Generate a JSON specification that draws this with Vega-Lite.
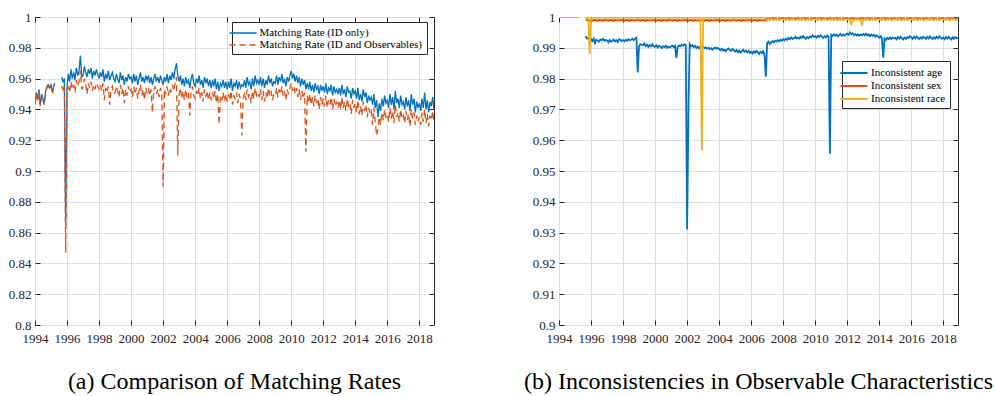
{
"$schema":"https://vega.github.io/schema/vega-lite/v6.json",
"padding":{"left":7,"top":10,"right":3,"bottom":3},
"spacing":125,
"bounds":"flush",
"datasets":{"m":[
{"t":"1994-01","a":0.944,"b":0.943,"c":null,"d":1,"e":1},
{"t":"1994-02","a":0.951,"b":0.950,"c":null,"d":1,"e":1},
{"t":"1994-03","a":0.946,"b":0.945,"c":null,"d":1,"e":1},
{"t":"1994-04","a":0.953,"b":0.952,"c":null,"d":1,"e":1},
{"t":"1994-05","a":0.943,"b":0.942,"c":null,"d":1,"e":1},
{"t":"1994-06","a":0.950,"b":0.949,"c":null,"d":1,"e":1},
{"t":"1994-07","a":0.947,"b":0.946,"c":null,"d":1,"e":1},
{"t":"1994-08","a":0.944,"b":0.943,"c":null,"d":1,"e":1},
{"t":"1994-09","a":0.952,"b":0.951,"c":null,"d":1,"e":1},
{"t":"1994-10","a":0.955,"b":0.954,"c":null,"d":1,"e":1},
{"t":"1994-11","a":0.956,"b":0.955,"c":null,"d":1,"e":1},
{"t":"1994-12","a":0.954,"b":0.953,"c":null,"d":1,"e":1},
{"t":"1995-01","a":0.956,"b":0.955,"c":null,"d":1,"e":1},
{"t":"1995-02","a":0.951,"b":0.950,"c":null,"d":1,"e":1},
{"t":"1995-03","a":0.955,"b":0.954,"c":null,"d":1,"e":1},
{"t":"1995-04","a":0.957,"b":0.956,"c":null,"d":1,"e":1},
{"t":"1995-05","a":null,"b":null,"c":null,"d":null,"e":null},
{"t":"1995-06","a":null,"b":null,"c":null,"d":null,"e":null},
{"t":"1995-07","a":null,"b":null,"c":null,"d":null,"e":null},
{"t":"1995-08","a":null,"b":null,"c":null,"d":null,"e":null},
{"t":"1995-09","a":0.961,"b":0.955,"c":0.9938,"d":0.9991,"e":0.9998},
{"t":"1995-10","a":0.958,"b":0.953,"c":0.9930,"d":0.9989,"e":0.9997},
{"t":"1995-11","a":0.960,"b":0.956,"c":0.9932,"d":0.9990,"e":0.9998},
{"t":"1995-12","a":0.865,"b":0.847,"c":0.9926,"d":0.9987,"e":0.9880},
{"t":"1996-01","a":0.955,"b":0.949,"c":0.9928,"d":0.9990,"e":0.9998},
{"t":"1996-02","a":0.963,"b":0.955,"c":0.9922,"d":0.9988,"e":0.9997},
{"t":"1996-03","a":0.958,"b":0.951,"c":0.9930,"d":0.9991,"e":0.9999},
{"t":"1996-04","a":0.966,"b":0.958,"c":0.9915,"d":0.9989,"e":0.9998},
{"t":"1996-05","a":0.960,"b":0.953,"c":0.9926,"d":0.9990,"e":0.9997},
{"t":"1996-06","a":0.964,"b":0.956,"c":0.9924,"d":0.9987,"e":0.9998},
{"t":"1996-07","a":0.959,"b":0.951,"c":0.9920,"d":0.9991,"e":0.9999},
{"t":"1996-08","a":0.967,"b":0.959,"c":0.9927,"d":0.9989,"e":0.9998},
{"t":"1996-09","a":0.962,"b":0.955,"c":0.9925,"d":0.9990,"e":0.9997},
{"t":"1996-10","a":0.965,"b":0.958,"c":0.9929,"d":0.9988,"e":0.9998},
{"t":"1996-11","a":0.975,"b":0.965,"c":0.9923,"d":0.9991,"e":0.9998},
{"t":"1996-12","a":0.961,"b":0.953,"c":0.9926,"d":0.9989,"e":0.9997},
{"t":"1997-01","a":0.962,"b":0.955,"c":0.9924,"d":0.9990,"e":0.9998},
{"t":"1997-02","a":0.968,"b":0.960,"c":0.9918,"d":0.9988,"e":0.9997},
{"t":"1997-03","a":0.964,"b":0.956,"c":0.9925,"d":0.9991,"e":0.9999},
{"t":"1997-04","a":0.961,"b":0.950,"c":0.9920,"d":0.9989,"e":0.9998},
{"t":"1997-05","a":0.966,"b":0.957,"c":0.9923,"d":0.9990,"e":0.9997},
{"t":"1997-06","a":0.963,"b":0.954,"c":0.9927,"d":0.9987,"e":0.9998},
{"t":"1997-07","a":0.967,"b":0.958,"c":0.9921,"d":0.9991,"e":0.9999},
{"t":"1997-08","a":0.960,"b":0.952,"c":0.9925,"d":0.9989,"e":0.9998},
{"t":"1997-09","a":0.965,"b":0.956,"c":0.9919,"d":0.9990,"e":0.9997},
{"t":"1997-10","a":0.962,"b":0.953,"c":0.9928,"d":0.9988,"e":0.9998},
{"t":"1997-11","a":0.966,"b":0.957,"c":0.9926,"d":0.9991,"e":0.9998},
{"t":"1997-12","a":0.963,"b":0.955,"c":0.9922,"d":0.9989,"e":0.9997},
{"t":"1998-01","a":0.960,"b":0.953,"c":0.9925,"d":0.9990,"e":0.9998},
{"t":"1998-02","a":0.964,"b":0.956,"c":0.9921,"d":0.9988,"e":0.9997},
{"t":"1998-03","a":0.961,"b":0.952,"c":0.9926,"d":0.9991,"e":0.9999},
{"t":"1998-04","a":0.966,"b":0.957,"c":0.9923,"d":0.9989,"e":0.9998},
{"t":"1998-05","a":0.958,"b":0.946,"c":0.9928,"d":0.9990,"e":0.9997},
{"t":"1998-06","a":0.963,"b":0.954,"c":0.9924,"d":0.9987,"e":0.9998},
{"t":"1998-07","a":0.960,"b":0.951,"c":0.9926,"d":0.9991,"e":0.9999},
{"t":"1998-08","a":0.965,"b":0.955,"c":0.9929,"d":0.9989,"e":0.9998},
{"t":"1998-09","a":0.959,"b":0.943,"c":0.9925,"d":0.9990,"e":0.9997},
{"t":"1998-10","a":0.962,"b":0.953,"c":0.9930,"d":0.9988,"e":0.9998},
{"t":"1998-11","a":0.964,"b":0.955,"c":0.9933,"d":0.9991,"e":0.9998},
{"t":"1998-12","a":0.960,"b":0.950,"c":0.9820,"d":0.9989,"e":0.9996},
{"t":"1999-01","a":0.958,"b":0.951,"c":0.9905,"d":0.9990,"e":0.9998},
{"t":"1999-02","a":0.963,"b":0.955,"c":0.9912,"d":0.9988,"e":0.9997},
{"t":"1999-03","a":0.960,"b":0.952,"c":0.9910,"d":0.9991,"e":0.9999},
{"t":"1999-04","a":0.957,"b":0.948,"c":0.9908,"d":0.9989,"e":0.9998},
{"t":"1999-05","a":0.964,"b":0.956,"c":0.9914,"d":0.9990,"e":0.9997},
{"t":"1999-06","a":0.959,"b":0.950,"c":0.9906,"d":0.9987,"e":0.9998},
{"t":"1999-07","a":0.962,"b":0.954,"c":0.9910,"d":0.9991,"e":0.9999},
{"t":"1999-08","a":0.956,"b":0.944,"c":0.9903,"d":0.9989,"e":0.9998},
{"t":"1999-09","a":0.961,"b":0.953,"c":0.9909,"d":0.9990,"e":0.9997},
{"t":"1999-10","a":0.958,"b":0.949,"c":0.9905,"d":0.9988,"e":0.9998},
{"t":"1999-11","a":0.963,"b":0.955,"c":0.9911,"d":0.9991,"e":0.9998},
{"t":"1999-12","a":0.960,"b":0.951,"c":0.9904,"d":0.9989,"e":0.9997},
{"t":"2000-01","a":0.961,"b":0.953,"c":0.9903,"d":0.9990,"e":0.9998},
{"t":"2000-02","a":0.957,"b":0.948,"c":0.9908,"d":0.9988,"e":0.9997},
{"t":"2000-03","a":0.963,"b":0.955,"c":0.9901,"d":0.9991,"e":0.9999},
{"t":"2000-04","a":0.958,"b":0.950,"c":0.9906,"d":0.9989,"e":0.9998},
{"t":"2000-05","a":0.962,"b":0.954,"c":0.9904,"d":0.9990,"e":0.9997},
{"t":"2000-06","a":0.956,"b":0.947,"c":0.9899,"d":0.9987,"e":0.9998},
{"t":"2000-07","a":0.960,"b":0.952,"c":0.9905,"d":0.9991,"e":0.9999},
{"t":"2000-08","a":0.964,"b":0.956,"c":0.9902,"d":0.9989,"e":0.9998},
{"t":"2000-09","a":0.958,"b":0.949,"c":0.9907,"d":0.9990,"e":0.9997},
{"t":"2000-10","a":0.961,"b":0.953,"c":0.9900,"d":0.9988,"e":0.9998},
{"t":"2000-11","a":0.957,"b":0.946,"c":0.9904,"d":0.9991,"e":0.9998},
{"t":"2000-12","a":0.962,"b":0.954,"c":0.9901,"d":0.9989,"e":0.9997},
{"t":"2001-01","a":0.959,"b":0.951,"c":0.9904,"d":0.9990,"e":0.9998},
{"t":"2001-02","a":0.962,"b":0.954,"c":0.9907,"d":0.9988,"e":0.9997},
{"t":"2001-03","a":0.957,"b":0.949,"c":0.9902,"d":0.9991,"e":0.9999},
{"t":"2001-04","a":0.961,"b":0.953,"c":0.9906,"d":0.9989,"e":0.9998},
{"t":"2001-05","a":0.956,"b":0.938,"c":0.9867,"d":0.9990,"e":0.9997},
{"t":"2001-06","a":0.960,"b":0.952,"c":0.9903,"d":0.9987,"e":0.9998},
{"t":"2001-07","a":0.963,"b":0.955,"c":0.9908,"d":0.9991,"e":0.9999},
{"t":"2001-08","a":0.958,"b":0.950,"c":0.9905,"d":0.9989,"e":0.9998},
{"t":"2001-09","a":0.961,"b":0.953,"c":0.9910,"d":0.9990,"e":0.9997},
{"t":"2001-10","a":0.957,"b":0.948,"c":0.9907,"d":0.9988,"e":0.9998},
{"t":"2001-11","a":0.962,"b":0.954,"c":0.9912,"d":0.9991,"e":0.9998},
{"t":"2001-12","a":0.959,"b":0.951,"c":0.9909,"d":0.9989,"e":0.9997},
{"t":"2002-01","a":0.956,"b":0.890,"c":0.9310,"d":0.9990,"e":0.9998},
{"t":"2002-02","a":0.961,"b":0.953,"c":0.9708,"d":0.9988,"e":0.9997},
{"t":"2002-03","a":0.958,"b":0.950,"c":0.9912,"d":0.9991,"e":0.9999},
{"t":"2002-04","a":0.963,"b":0.955,"c":0.9905,"d":0.9989,"e":0.9998},
{"t":"2002-05","a":0.957,"b":0.949,"c":0.9908,"d":0.9990,"e":0.9997},
{"t":"2002-06","a":0.962,"b":0.954,"c":0.9902,"d":0.9987,"e":0.9998},
{"t":"2002-07","a":0.959,"b":0.951,"c":0.9906,"d":0.9991,"e":0.9999},
{"t":"2002-08","a":0.964,"b":0.956,"c":0.9900,"d":0.9989,"e":0.9998},
{"t":"2002-09","a":0.960,"b":0.952,"c":0.9904,"d":0.9990,"e":0.9997},
{"t":"2002-10","a":0.966,"b":0.957,"c":0.9898,"d":0.9988,"e":0.9998},
{"t":"2002-11","a":0.970,"b":0.961,"c":0.9902,"d":0.9991,"e":0.9998},
{"t":"2002-12","a":0.962,"b":0.910,"c":0.9906,"d":0.9989,"e":0.9567},
{"t":"2003-01","a":0.958,"b":0.950,"c":0.9903,"d":0.9990,"e":0.9998},
{"t":"2003-02","a":0.962,"b":0.954,"c":0.9899,"d":0.9988,"e":0.9997},
{"t":"2003-03","a":0.956,"b":0.947,"c":0.9902,"d":0.9991,"e":0.9999},
{"t":"2003-04","a":0.960,"b":0.952,"c":0.9897,"d":0.9989,"e":0.9998},
{"t":"2003-05","a":0.955,"b":0.946,"c":0.9900,"d":0.9990,"e":0.9997},
{"t":"2003-06","a":0.961,"b":0.953,"c":0.9896,"d":0.9987,"e":0.9998},
{"t":"2003-07","a":0.957,"b":0.948,"c":0.9899,"d":0.9991,"e":0.9999},
{"t":"2003-08","a":0.959,"b":0.951,"c":0.9894,"d":0.9989,"e":0.9998},
{"t":"2003-09","a":0.954,"b":0.936,"c":0.9898,"d":0.9990,"e":0.9997},
{"t":"2003-10","a":0.960,"b":0.952,"c":0.9901,"d":0.9988,"e":0.9998},
{"t":"2003-11","a":0.963,"b":0.955,"c":0.9897,"d":0.9991,"e":0.9998},
{"t":"2003-12","a":0.957,"b":0.949,"c":0.9900,"d":0.9989,"e":0.9997},
{"t":"2004-01","a":0.955,"b":0.947,"c":0.9896,"d":0.9990,"e":0.9998},
{"t":"2004-02","a":0.960,"b":0.952,"c":0.9892,"d":0.9988,"e":0.9997},
{"t":"2004-03","a":0.957,"b":0.949,"c":0.9897,"d":0.9991,"e":0.9999},
{"t":"2004-04","a":0.962,"b":0.954,"c":0.9891,"d":0.9989,"e":0.9998},
{"t":"2004-05","a":0.956,"b":0.947,"c":0.9894,"d":0.9990,"e":0.9997},
{"t":"2004-06","a":0.959,"b":0.951,"c":0.9889,"d":0.9987,"e":0.9998},
{"t":"2004-07","a":0.954,"b":0.945,"c":0.9895,"d":0.9991,"e":0.9999},
{"t":"2004-08","a":0.961,"b":0.953,"c":0.9898,"d":0.9989,"e":0.9998},
{"t":"2004-09","a":0.957,"b":0.948,"c":0.9893,"d":0.9990,"e":0.9997},
{"t":"2004-10","a":0.960,"b":0.952,"c":0.9890,"d":0.9988,"e":0.9998},
{"t":"2004-11","a":0.955,"b":0.946,"c":0.9896,"d":0.9991,"e":0.9998},
{"t":"2004-12","a":0.959,"b":0.951,"c":0.9892,"d":0.9989,"e":0.9997},
{"t":"2005-01","a":0.954,"b":0.946,"c":0.9888,"d":0.9990,"e":0.9998},
{"t":"2005-02","a":0.959,"b":0.951,"c":0.9893,"d":0.9988,"e":0.9997},
{"t":"2005-03","a":0.955,"b":0.947,"c":0.9886,"d":0.9991,"e":0.9999},
{"t":"2005-04","a":0.960,"b":0.952,"c":0.9891,"d":0.9989,"e":0.9998},
{"t":"2005-05","a":0.953,"b":0.944,"c":0.9884,"d":0.9990,"e":0.9997},
{"t":"2005-06","a":0.958,"b":0.950,"c":0.9889,"d":0.9987,"e":0.9998},
{"t":"2005-07","a":0.952,"b":0.930,"c":0.9894,"d":0.9991,"e":0.9999},
{"t":"2005-08","a":0.957,"b":0.949,"c":0.9887,"d":0.9989,"e":0.9998},
{"t":"2005-09","a":0.955,"b":0.946,"c":0.9891,"d":0.9990,"e":0.9997},
{"t":"2005-10","a":0.959,"b":0.951,"c":0.9885,"d":0.9988,"e":0.9998},
{"t":"2005-11","a":0.954,"b":0.945,"c":0.9890,"d":0.9991,"e":0.9998},
{"t":"2005-12","a":0.958,"b":0.950,"c":0.9883,"d":0.9989,"e":0.9997},
{"t":"2006-01","a":0.953,"b":0.945,"c":0.9887,"d":0.9990,"e":0.9998},
{"t":"2006-02","a":0.958,"b":0.950,"c":0.9882,"d":0.9988,"e":0.9997},
{"t":"2006-03","a":0.954,"b":0.946,"c":0.9889,"d":0.9991,"e":0.9999},
{"t":"2006-04","a":0.960,"b":0.952,"c":0.9884,"d":0.9989,"e":0.9998},
{"t":"2006-05","a":0.952,"b":0.943,"c":0.9890,"d":0.9990,"e":0.9997},
{"t":"2006-06","a":0.957,"b":0.949,"c":0.9885,"d":0.9987,"e":0.9998},
{"t":"2006-07","a":0.955,"b":0.947,"c":0.9880,"d":0.9991,"e":0.9999},
{"t":"2006-08","a":0.959,"b":0.951,"c":0.9887,"d":0.9989,"e":0.9998},
{"t":"2006-09","a":0.953,"b":0.944,"c":0.9883,"d":0.9990,"e":0.9997},
{"t":"2006-10","a":0.958,"b":0.950,"c":0.9889,"d":0.9988,"e":0.9998},
{"t":"2006-11","a":0.954,"b":0.946,"c":0.9878,"d":0.9991,"e":0.9998},
{"t":"2006-12","a":0.956,"b":0.923,"c":0.9806,"d":0.9989,"e":0.9997},
{"t":"2007-01","a":0.955,"b":0.947,"c":0.9915,"d":0.9995,"e":0.9988},
{"t":"2007-02","a":0.959,"b":0.951,"c":0.9920,"d":0.9994,"e":0.9993},
{"t":"2007-03","a":0.954,"b":0.946,"c":0.9912,"d":0.9996,"e":0.9990},
{"t":"2007-04","a":0.961,"b":0.953,"c":0.9918,"d":0.9995,"e":0.9994},
{"t":"2007-05","a":0.956,"b":0.948,"c":0.9922,"d":0.9997,"e":0.9992},
{"t":"2007-06","a":0.958,"b":0.950,"c":0.9917,"d":0.9994,"e":0.9989},
{"t":"2007-07","a":0.953,"b":0.944,"c":0.9923,"d":0.9996,"e":0.9993},
{"t":"2007-08","a":0.960,"b":0.952,"c":0.9920,"d":0.9995,"e":0.9991},
{"t":"2007-09","a":0.955,"b":0.947,"c":0.9925,"d":0.9994,"e":0.9994},
{"t":"2007-10","a":0.962,"b":0.954,"c":0.9921,"d":0.9996,"e":0.9990},
{"t":"2007-11","a":0.957,"b":0.949,"c":0.9926,"d":0.9995,"e":0.9992},
{"t":"2007-12","a":0.959,"b":0.951,"c":0.9923,"d":0.9997,"e":0.9993},
{"t":"2008-01","a":0.956,"b":0.948,"c":0.9928,"d":0.9995,"e":0.9991},
{"t":"2008-02","a":0.961,"b":0.953,"c":0.9924,"d":0.9994,"e":0.9993},
{"t":"2008-03","a":0.955,"b":0.946,"c":0.9930,"d":0.9996,"e":0.9990},
{"t":"2008-04","a":0.960,"b":0.952,"c":0.9926,"d":0.9995,"e":0.9994},
{"t":"2008-05","a":0.954,"b":0.945,"c":0.9932,"d":0.9997,"e":0.9992},
{"t":"2008-06","a":0.959,"b":0.951,"c":0.9928,"d":0.9994,"e":0.9989},
{"t":"2008-07","a":0.956,"b":0.947,"c":0.9934,"d":0.9996,"e":0.9993},
{"t":"2008-08","a":0.962,"b":0.954,"c":0.9929,"d":0.9995,"e":0.9991},
{"t":"2008-09","a":0.957,"b":0.949,"c":0.9931,"d":0.9994,"e":0.9994},
{"t":"2008-10","a":0.960,"b":0.952,"c":0.9936,"d":0.9996,"e":0.9990},
{"t":"2008-11","a":0.955,"b":0.946,"c":0.9930,"d":0.9995,"e":0.9992},
{"t":"2008-12","a":0.958,"b":0.950,"c":0.9933,"d":0.9997,"e":0.9993},
{"t":"2009-01","a":0.957,"b":0.949,"c":0.9930,"d":0.9995,"e":0.9991},
{"t":"2009-02","a":0.962,"b":0.954,"c":0.9936,"d":0.9994,"e":0.9993},
{"t":"2009-03","a":0.956,"b":0.948,"c":0.9932,"d":0.9996,"e":0.9990},
{"t":"2009-04","a":0.961,"b":0.953,"c":0.9938,"d":0.9995,"e":0.9994},
{"t":"2009-05","a":0.958,"b":0.950,"c":0.9933,"d":0.9997,"e":0.9992},
{"t":"2009-06","a":0.963,"b":0.955,"c":0.9929,"d":0.9994,"e":0.9989},
{"t":"2009-07","a":0.957,"b":0.949,"c":0.9935,"d":0.9996,"e":0.9993},
{"t":"2009-08","a":0.960,"b":0.952,"c":0.9931,"d":0.9995,"e":0.9991},
{"t":"2009-09","a":0.955,"b":0.946,"c":0.9937,"d":0.9994,"e":0.9994},
{"t":"2009-10","a":0.961,"b":0.953,"c":0.9934,"d":0.9996,"e":0.9990},
{"t":"2009-11","a":0.958,"b":0.950,"c":0.9940,"d":0.9995,"e":0.9992},
{"t":"2009-12","a":0.962,"b":0.954,"c":0.9935,"d":0.9997,"e":0.9993},
{"t":"2010-01","a":0.965,"b":0.957,"c":0.9938,"d":0.9995,"e":0.9991},
{"t":"2010-02","a":0.960,"b":0.952,"c":0.9933,"d":0.9994,"e":0.9993},
{"t":"2010-03","a":0.963,"b":0.955,"c":0.9939,"d":0.9996,"e":0.9990},
{"t":"2010-04","a":0.958,"b":0.950,"c":0.9935,"d":0.9995,"e":0.9994},
{"t":"2010-05","a":0.962,"b":0.954,"c":0.9941,"d":0.9997,"e":0.9992},
{"t":"2010-06","a":0.957,"b":0.948,"c":0.9936,"d":0.9994,"e":0.9989},
{"t":"2010-07","a":0.961,"b":0.953,"c":0.9932,"d":0.9996,"e":0.9993},
{"t":"2010-08","a":0.955,"b":0.946,"c":0.9938,"d":0.9995,"e":0.9991},
{"t":"2010-09","a":0.960,"b":0.952,"c":0.9934,"d":0.9994,"e":0.9994},
{"t":"2010-10","a":0.956,"b":0.947,"c":0.9940,"d":0.9996,"e":0.9990},
{"t":"2010-11","a":0.959,"b":0.951,"c":0.9936,"d":0.9995,"e":0.9992},
{"t":"2010-12","a":0.953,"b":0.9125,"c":0.9556,"d":0.9997,"e":0.9993},
{"t":"2011-01","a":0.957,"b":0.949,"c":0.9942,"d":0.9995,"e":0.9991},
{"t":"2011-02","a":0.953,"b":0.944,"c":0.9938,"d":0.9994,"e":0.9993},
{"t":"2011-03","a":0.958,"b":0.950,"c":0.9944,"d":0.9996,"e":0.9990},
{"t":"2011-04","a":0.952,"b":0.943,"c":0.9940,"d":0.9995,"e":0.9994},
{"t":"2011-05","a":0.956,"b":0.948,"c":0.9943,"d":0.9997,"e":0.9992},
{"t":"2011-06","a":0.951,"b":0.942,"c":0.9937,"d":0.9994,"e":0.9989},
{"t":"2011-07","a":0.957,"b":0.949,"c":0.9941,"d":0.9996,"e":0.9993},
{"t":"2011-08","a":0.953,"b":0.944,"c":0.9945,"d":0.9995,"e":0.9991},
{"t":"2011-09","a":0.955,"b":0.947,"c":0.9939,"d":0.9994,"e":0.9994},
{"t":"2011-10","a":0.950,"b":0.940,"c":0.9943,"d":0.9996,"e":0.9990},
{"t":"2011-11","a":0.956,"b":0.948,"c":0.9940,"d":0.9995,"e":0.9992},
{"t":"2011-12","a":0.952,"b":0.943,"c":0.9944,"d":0.9997,"e":0.9993},
{"t":"2012-01","a":0.955,"b":0.947,"c":0.9946,"d":0.9995,"e":0.9991},
{"t":"2012-02","a":0.951,"b":0.942,"c":0.9942,"d":0.9994,"e":0.9993},
{"t":"2012-03","a":0.957,"b":0.949,"c":0.9950,"d":0.9996,"e":0.9990},
{"t":"2012-04","a":0.950,"b":0.941,"c":0.9944,"d":0.9995,"e":0.9974},
{"t":"2012-05","a":0.954,"b":0.946,"c":0.9947,"d":0.9997,"e":0.9992},
{"t":"2012-06","a":0.952,"b":0.943,"c":0.9941,"d":0.9994,"e":0.9989},
{"t":"2012-07","a":0.956,"b":0.948,"c":0.9945,"d":0.9996,"e":0.9993},
{"t":"2012-08","a":0.949,"b":0.940,"c":0.9940,"d":0.9995,"e":0.9991},
{"t":"2012-09","a":0.955,"b":0.947,"c":0.9944,"d":0.9994,"e":0.9994},
{"t":"2012-10","a":0.951,"b":0.942,"c":0.9939,"d":0.9996,"e":0.9990},
{"t":"2012-11","a":0.953,"b":0.945,"c":0.9943,"d":0.9995,"e":0.9992},
{"t":"2012-12","a":0.950,"b":0.941,"c":0.9941,"d":0.9997,"e":0.9972},
{"t":"2013-01","a":0.954,"b":0.946,"c":0.9945,"d":0.9995,"e":0.9991},
{"t":"2013-02","a":0.949,"b":0.940,"c":0.9941,"d":0.9994,"e":0.9993},
{"t":"2013-03","a":0.956,"b":0.948,"c":0.9946,"d":0.9996,"e":0.9990},
{"t":"2013-04","a":0.950,"b":0.941,"c":0.9940,"d":0.9995,"e":0.9994},
{"t":"2013-05","a":0.953,"b":0.945,"c":0.9944,"d":0.9997,"e":0.9992},
{"t":"2013-06","a":0.948,"b":0.939,"c":0.9938,"d":0.9994,"e":0.9989},
{"t":"2013-07","a":0.955,"b":0.947,"c":0.9943,"d":0.9996,"e":0.9993},
{"t":"2013-08","a":0.951,"b":0.942,"c":0.9939,"d":0.9995,"e":0.9991},
{"t":"2013-09","a":0.952,"b":0.944,"c":0.9942,"d":0.9994,"e":0.9994},
{"t":"2013-10","a":0.947,"b":0.937,"c":0.9936,"d":0.9996,"e":0.9990},
{"t":"2013-11","a":0.954,"b":0.946,"c":0.9940,"d":0.9995,"e":0.9992},
{"t":"2013-12","a":0.950,"b":0.941,"c":0.9937,"d":0.9997,"e":0.9993},
{"t":"2014-01","a":0.952,"b":0.944,"c":0.9933,"d":0.9995,"e":0.9991},
{"t":"2014-02","a":0.947,"b":0.938,"c":0.9938,"d":0.9994,"e":0.9993},
{"t":"2014-03","a":0.954,"b":0.946,"c":0.9930,"d":0.9996,"e":0.9990},
{"t":"2014-04","a":0.946,"b":0.937,"c":0.9868,"d":0.9995,"e":0.9994},
{"t":"2014-05","a":0.950,"b":0.942,"c":0.9930,"d":0.9997,"e":0.9992},
{"t":"2014-06","a":0.945,"b":0.936,"c":0.9925,"d":0.9994,"e":0.9989},
{"t":"2014-07","a":0.953,"b":0.945,"c":0.9932,"d":0.9996,"e":0.9993},
{"t":"2014-08","a":0.948,"b":0.939,"c":0.9928,"d":0.9995,"e":0.9991},
{"t":"2014-09","a":0.951,"b":0.943,"c":0.9934,"d":0.9994,"e":0.9994},
{"t":"2014-10","a":0.944,"b":0.935,"c":0.9929,"d":0.9996,"e":0.9990},
{"t":"2014-11","a":0.949,"b":0.941,"c":0.9933,"d":0.9995,"e":0.9992},
{"t":"2014-12","a":0.946,"b":0.937,"c":0.9930,"d":0.9997,"e":0.9993},
{"t":"2015-01","a":0.948,"b":0.939,"c":0.9932,"d":0.9995,"e":0.9991},
{"t":"2015-02","a":0.943,"b":0.930,"c":0.9927,"d":0.9994,"e":0.9993},
{"t":"2015-03","a":0.950,"b":0.941,"c":0.9935,"d":0.9996,"e":0.9990},
{"t":"2015-04","a":0.941,"b":0.932,"c":0.9930,"d":0.9995,"e":0.9994},
{"t":"2015-05","a":0.946,"b":0.923,"c":0.9936,"d":0.9997,"e":0.9992},
{"t":"2015-06","a":0.935,"b":0.927,"c":0.9931,"d":0.9994,"e":0.9989},
{"t":"2015-07","a":0.944,"b":0.935,"c":0.9927,"d":0.9996,"e":0.9993},
{"t":"2015-08","a":0.939,"b":0.930,"c":0.9933,"d":0.9995,"e":0.9991},
{"t":"2015-09","a":0.947,"b":0.938,"c":0.9929,"d":0.9994,"e":0.9994},
{"t":"2015-10","a":0.942,"b":0.933,"c":0.9935,"d":0.9996,"e":0.9990},
{"t":"2015-11","a":0.949,"b":0.940,"c":0.9932,"d":0.9995,"e":0.9992},
{"t":"2015-12","a":0.944,"b":0.935,"c":0.9938,"d":0.9997,"e":0.9993},
{"t":"2016-01","a":0.946,"b":0.937,"c":0.9934,"d":0.9995,"e":0.9991},
{"t":"2016-02","a":0.941,"b":0.932,"c":0.9929,"d":0.9994,"e":0.9993},
{"t":"2016-03","a":0.950,"b":0.941,"c":0.9936,"d":0.9996,"e":0.9990},
{"t":"2016-04","a":0.943,"b":0.934,"c":0.9931,"d":0.9995,"e":0.9994},
{"t":"2016-05","a":0.948,"b":0.939,"c":0.9937,"d":0.9997,"e":0.9992},
{"t":"2016-06","a":0.940,"b":0.931,"c":0.9932,"d":0.9994,"e":0.9989},
{"t":"2016-07","a":0.952,"b":0.943,"c":0.9928,"d":0.9996,"e":0.9993},
{"t":"2016-08","a":0.944,"b":0.935,"c":0.9934,"d":0.9995,"e":0.9991},
{"t":"2016-09","a":0.947,"b":0.938,"c":0.9930,"d":0.9994,"e":0.9994},
{"t":"2016-10","a":0.941,"b":0.932,"c":0.9936,"d":0.9996,"e":0.9990},
{"t":"2016-11","a":0.949,"b":0.940,"c":0.9933,"d":0.9995,"e":0.9992},
{"t":"2016-12","a":0.943,"b":0.934,"c":0.9929,"d":0.9997,"e":0.9993},
{"t":"2017-01","a":0.945,"b":0.936,"c":0.9935,"d":0.9995,"e":0.9991},
{"t":"2017-02","a":0.940,"b":0.931,"c":0.9930,"d":0.9994,"e":0.9993},
{"t":"2017-03","a":0.948,"b":0.939,"c":0.9937,"d":0.9996,"e":0.9990},
{"t":"2017-04","a":0.942,"b":0.933,"c":0.9932,"d":0.9995,"e":0.9994},
{"t":"2017-05","a":0.946,"b":0.937,"c":0.9928,"d":0.9997,"e":0.9992},
{"t":"2017-06","a":0.939,"b":0.929,"c":0.9934,"d":0.9994,"e":0.9989},
{"t":"2017-07","a":0.950,"b":0.940,"c":0.9930,"d":0.9996,"e":0.9993},
{"t":"2017-08","a":0.943,"b":0.934,"c":0.9936,"d":0.9995,"e":0.9991},
{"t":"2017-09","a":0.947,"b":0.938,"c":0.9931,"d":0.9994,"e":0.9994},
{"t":"2017-10","a":0.938,"b":0.930,"c":0.9937,"d":0.9996,"e":0.9990},
{"t":"2017-11","a":0.945,"b":0.936,"c":0.9933,"d":0.9995,"e":0.9992},
{"t":"2017-12","a":0.941,"b":0.932,"c":0.9929,"d":0.9997,"e":0.9993},
{"t":"2018-01","a":0.944,"b":0.935,"c":0.9933,"d":0.9995,"e":0.9991},
{"t":"2018-02","a":0.939,"b":0.930,"c":0.9928,"d":0.9994,"e":0.9993},
{"t":"2018-03","a":0.947,"b":0.938,"c":0.9935,"d":0.9996,"e":0.9990},
{"t":"2018-04","a":0.941,"b":0.932,"c":0.9930,"d":0.9995,"e":0.9994},
{"t":"2018-05","a":0.951,"b":0.940,"c":0.9936,"d":0.9997,"e":0.9992},
{"t":"2018-06","a":0.940,"b":0.931,"c":0.9931,"d":0.9994,"e":0.9989},
{"t":"2018-07","a":0.946,"b":0.937,"c":0.9927,"d":0.9996,"e":0.9993},
{"t":"2018-08","a":0.938,"b":0.929,"c":0.9934,"d":0.9995,"e":0.9991},
{"t":"2018-09","a":0.945,"b":0.936,"c":0.9929,"d":0.9994,"e":0.9994},
{"t":"2018-10","a":0.942,"b":0.933,"c":0.9935,"d":0.9996,"e":0.9990},
{"t":"2018-11","a":0.948,"b":0.939,"c":0.9931,"d":0.9995,"e":0.9992},
{"t":"2018-12","a":0.940,"b":0.932,"c":0.9932,"d":0.9997,"e":0.9993}
]},
"hconcat":[
{
 "width":399,"height":308,
 "data":{"name":"m"},
 "transform":[{"fold":["a","b"],"as":["k","v"]}],
 "layer":[
  {
   "mark":{"type":"line","strokeWidth":1.3,"invalid":"break-paths-show-domains","clip":true},
   "encoding":{
    "x":{"field":"t","type":"temporal","scale":{"type":"utc","domain":[{"year":1994,"month":1,"date":1,"utc":true},{"year":2018,"month":12,"date":1,"utc":true}]},"axis":{"title":null,"format":"%Y","formatType":"utc","labelOverlap":false,"labelFlush":false,"labelPadding":12,"tickCount":{"interval":"year","step":2}}},
    "y":{"field":"v","type":"quantitative","scale":{"domain":[0.8,1],"nice":false,"zero":false},"axis":{"title":null,"values":[0.8,0.82,0.84,0.86,0.88,0.9,0.92,0.94,0.96,0.98,1],"format":".2~f"}},
    "color":{"field":"k","type":"nominal","scale":{"domain":["a","b"],"range":["#0072BD","#D95319"]},"legend":{"orient":"none","legendX":197,"legendY":5,"title":null,"symbolType":"M-2.25,0H2.25","symbolSize":144,"labelOffset":9.5,"labelExpr":"datum.label == 'a' ? 'Matching Rate (ID only)' : 'Matching Rate (ID and Observables)'"}},
    "strokeDash":{"field":"k","type":"nominal","scale":{"domain":["a","b"],"range":[[1,0],[6,4]]},"legend":{"orient":"none","legendX":197,"legendY":5,"title":null,"symbolType":"M-2.25,0H2.25","symbolSize":144,"labelOffset":9.5,"labelExpr":"datum.label == 'a' ? 'Matching Rate (ID only)' : 'Matching Rate (ID and Observables)'"}}
   }
  },
  {
   "mark":{"type":"line","opacity":0,"invalid":"break-paths-show-domains"},
   "encoding":{
    "x":{"field":"t","type":"temporal","scale":{"type":"utc","domain":[{"year":1994,"month":1,"date":1,"utc":true},{"year":2018,"month":12,"date":1,"utc":true}]},"axis":{"orient":"top","title":null,"labels":false,"grid":false,"tickCount":{"interval":"year","step":2}}},
    "y":{"field":"v","type":"quantitative","scale":{"domain":[0.8,1],"nice":false,"zero":false},"axis":{"orient":"right","title":null,"labels":false,"grid":false,"values":[0.8,0.82,0.84,0.86,0.88,0.9,0.92,0.94,0.96,0.98,1]}}
   }
  }
 ],
 "resolve":{"axis":{"x":"independent","y":"independent"}},
 "title":{"text":"(a) Comparison of Matching Rates","orient":"bottom","anchor":"middle","font":"Liberation Serif","fontSize":24,"fontWeight":"normal","color":"black","offset":25}
},
{
 "width":399,"height":308,
 "data":{"name":"m"},
 "transform":[{"fold":["c","d","e"],"as":["k2","v2"]}],
 "layer":[
  {
   "mark":{"type":"line","strokeWidth":1.8,"invalid":"break-paths-show-domains","clip":true},
   "encoding":{
    "x":{"field":"t","type":"temporal","scale":{"type":"utc","domain":[{"year":1994,"month":1,"date":1,"utc":true},{"year":2018,"month":12,"date":1,"utc":true}]},"axis":{"title":null,"format":"%Y","formatType":"utc","labelOverlap":false,"labelFlush":false,"labelPadding":12,"tickCount":{"interval":"year","step":2}}},
    "y":{"field":"v2","type":"quantitative","scale":{"domain":[0.9,1],"nice":false,"zero":false},"axis":{"title":null,"values":[0.9,0.91,0.92,0.93,0.94,0.95,0.96,0.97,0.98,0.99,1],"format":".2~f"}},
    "color":{"field":"k2","type":"nominal","scale":{"domain":["c","d","e"],"range":["#0072BD","#D95319","#EDB120"]},"legend":{"orient":"none","legendX":283,"legendY":44,"title":null,"symbolStrokeWidth":2,"symbolType":"M-2,0H2","symbolSize":182,"labelOffset":9,"labelExpr":"datum.label == 'c' ? 'Inconsistent age' : datum.label == 'd' ? 'Inconsistent sex' : 'Inconsistent race'"}}
   }
  },
  {
   "mark":{"type":"line","opacity":0,"invalid":"break-paths-show-domains"},
   "encoding":{
    "x":{"field":"t","type":"temporal","scale":{"type":"utc","domain":[{"year":1994,"month":1,"date":1,"utc":true},{"year":2018,"month":12,"date":1,"utc":true}]},"axis":{"orient":"top","title":null,"labels":false,"grid":false,"tickCount":{"interval":"year","step":2}}},
    "y":{"field":"v2","type":"quantitative","scale":{"domain":[0.9,1],"nice":false,"zero":false},"axis":{"orient":"right","title":null,"labels":false,"grid":false,"values":[0.9,0.91,0.92,0.93,0.94,0.95,0.96,0.97,0.98,0.99,1]}}
   }
  }
 ],
 "resolve":{"axis":{"x":"independent","y":"independent"}},
 "title":{"text":"(b) Inconsistencies in Observable Characteristics","orient":"bottom","anchor":"middle","font":"Liberation Serif","fontSize":24,"fontWeight":"normal","color":"black","offset":25}
}
],
"resolve":{"scale":{"color":"independent","strokeDash":"independent"},"legend":{"color":"independent","strokeDash":"independent"}},
"config":{
 "font":"Liberation Serif",
 "title":{"font":"Liberation Serif"},
 "view":{"stroke":"#262626","strokeWidth":1},
 "axis":{"domain":false,"grid":true,"gridColor":"#dedede","gridWidth":1,"tickColor":"#262626","tickSize":-5,"labelFont":"Liberation Serif","labelFontSize":13,"labelColor":"#262626","labelPadding":9},
 "legend":{"symbolStrokeWidth":1.5,"labelFont":"Liberation Serif","labelFontSize":11,"labelColor":"black","labelLimit":0,"strokeColor":"#262626","fillColor":"white","padding":4,"rowPadding":0,"cornerRadius":0}
}
}
